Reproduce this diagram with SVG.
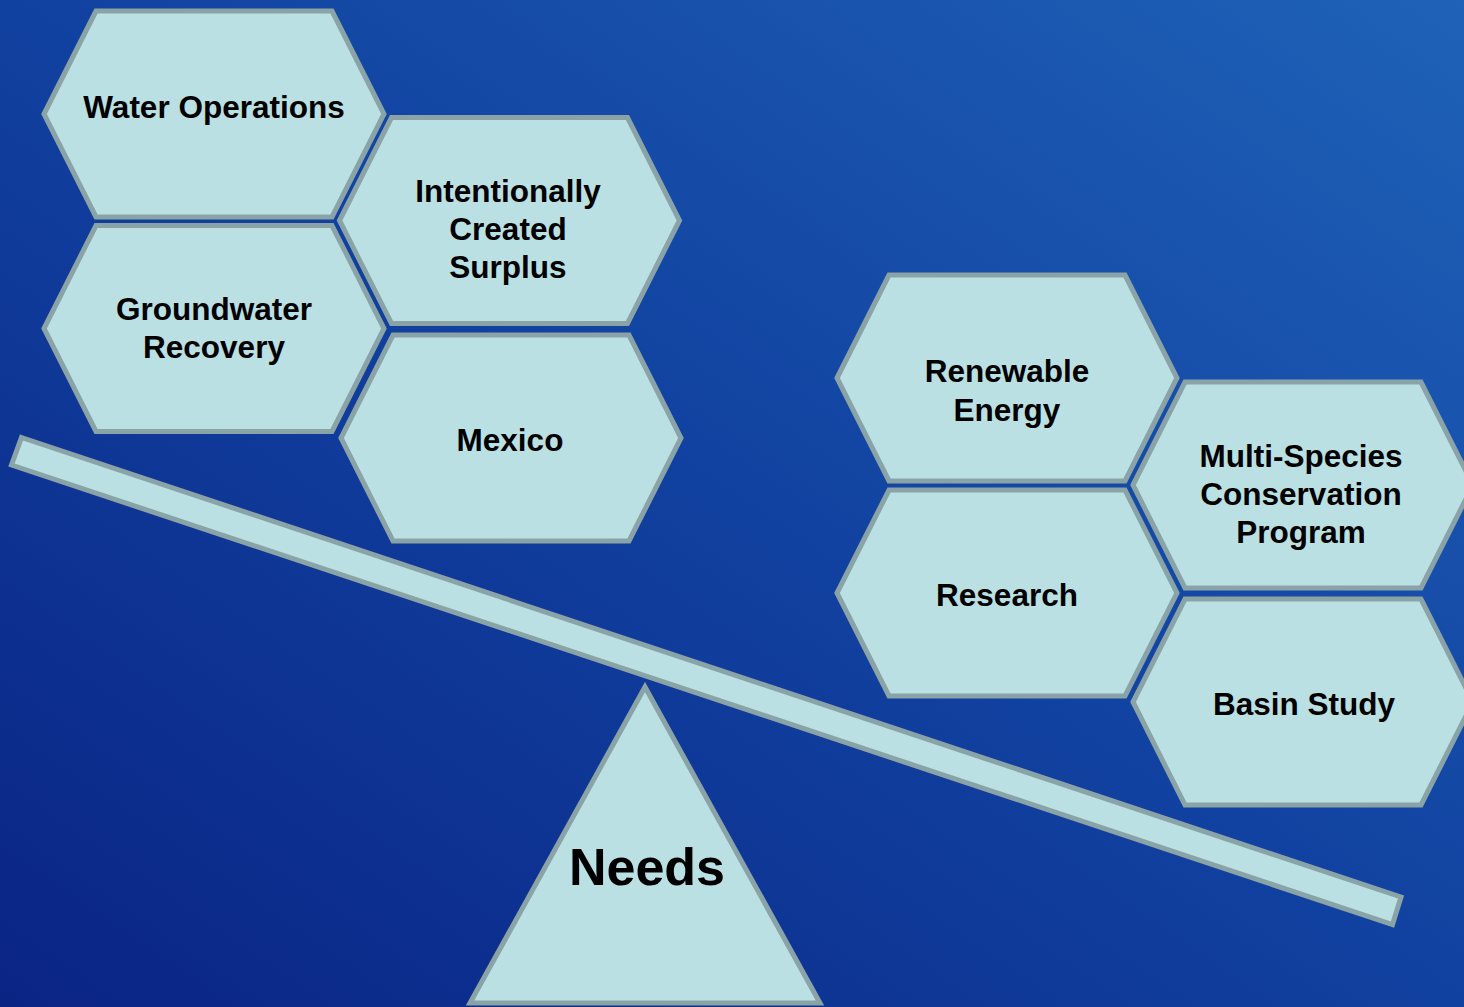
<svg xmlns="http://www.w3.org/2000/svg" width="1464" height="1007" viewBox="0 0 1464 1007">
<defs>
<linearGradient id="bg" x1="0" y1="1" x2="1" y2="0">
<stop offset="0" stop-color="#0A2484"/>
<stop offset="0.5" stop-color="#1141A0"/>
<stop offset="1" stop-color="#1F62B8"/>
</linearGradient>
<polygon id="hex" points="-170,0 -118,-103 118,-103 170,0 118,103 -118,103"/>
</defs>
<style>
.shape{fill:#BAE0E3;stroke:#8AA3A6;stroke-width:5;stroke-linejoin:miter}
.lbl{font-family:"Liberation Sans",Arial,sans-serif;font-weight:bold;font-size:31.5px;fill:#000;text-anchor:middle}
.big{font-size:52px}
</style>
<rect x="0" y="0" width="1464" height="1007" fill="url(#bg)"/>

<g id="fulcrum">
<polygon class="shape" points="645,687 820,1003 470,1003"/>
<text class="lbl big" x="647" y="885">Needs</text>
</g>

<g id="connectors">
<polygon id="beam" class="shape" points="21.5,437.5 1401,897 1392.5,924.5 11.5,465"/>
</g>

<g id="water-operations">
<use href="#hex" class="shape" x="214" y="114"/>
<text class="lbl" x="214" y="118">Water Operations</text>
</g>
<g id="intentionally-created-surplus">
<use href="#hex" class="shape" x="509.5" y="220.5"/>
<text class="lbl" x="508" y="202">Intentionally</text>
<text class="lbl" x="508" y="240">Created</text>
<text class="lbl" x="508" y="278">Surplus</text>
</g>
<g id="groundwater-recovery">
<use href="#hex" class="shape" x="214" y="328.5"/>
<text class="lbl" x="214" y="320">Groundwater</text>
<text class="lbl" x="214" y="358">Recovery</text>
</g>
<g id="mexico">
<use href="#hex" class="shape" x="511" y="438"/>
<text class="lbl" x="510" y="451">Mexico</text>
</g>
<g id="renewable-energy">
<use href="#hex" class="shape" x="1007" y="378"/>
<text class="lbl" x="1007" y="382">Renewable</text>
<text class="lbl" x="1007" y="421">Energy</text>
</g>
<g id="research">
<use href="#hex" class="shape" x="1007" y="593"/>
<text class="lbl" x="1007" y="606">Research</text>
</g>
<g id="multi-species">
<use href="#hex" class="shape" x="1303" y="485"/>
<text class="lbl" x="1301" y="467">Multi-Species</text>
<text class="lbl" x="1301" y="505">Conservation</text>
<text class="lbl" x="1301" y="543">Program</text>
</g>
<g id="basin-study">
<use href="#hex" class="shape" x="1303" y="702"/>
<text class="lbl" x="1304" y="715">Basin Study</text>
</g>
</svg>
